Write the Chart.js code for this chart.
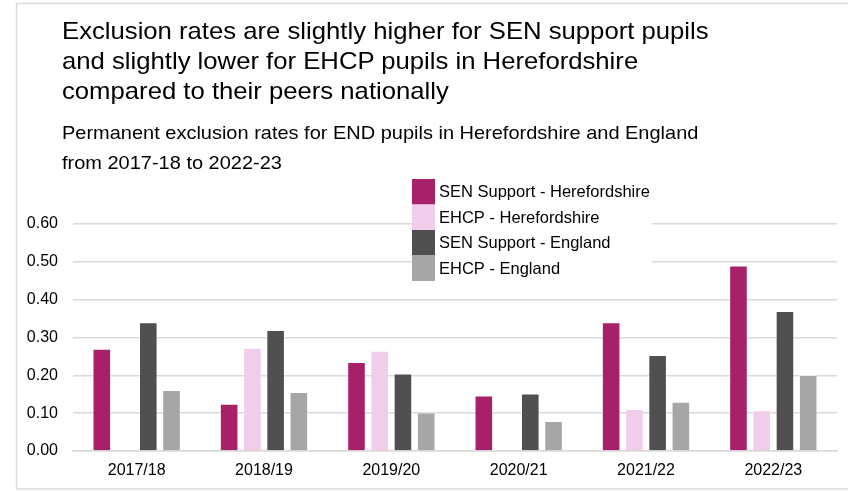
<!DOCTYPE html>
<html>
<head>
<meta charset="utf-8">
<script src="https://cdn.jsdelivr.net/npm/chart.js@4.4.0/dist/chart.umd.min.js"></script>
<style>
  html, body { margin: 0; padding: 0; background: #fff; }
  #wrap { position: relative; width: 848px; height: 491px; font-family: "Liberation Sans", Arial, sans-serif; }
  #chart { position: absolute; left: 0; top: 0; }
  .title { position: absolute; left: 62px; top: 16px; font-size: 24px; line-height: 30px; color: #000; white-space: nowrap; transform: scaleX(1.07); transform-origin: left top; }
  .subtitle { position: absolute; left: 62px; top: 118px; font-size: 18.5px; line-height: 30px; color: #000; white-space: nowrap; transform: scaleX(1.08); transform-origin: left top; }
</style>
</head>
<body>
<div id="wrap">
  <canvas id="chart" width="848" height="491"></canvas>
  <div class="title">Exclusion rates are slightly higher for SEN support pupils<br>and slightly lower for EHCP pupils in Herefordshire<br>compared to their peers nationally</div>
  <div class="subtitle">Permanent exclusion rates for END pupils in Herefordshire and England<br>from 2017-18 to 2022-23</div>
</div>
<script>
const years = ['2017/18', '2018/19', '2019/20', '2020/21', '2021/22', '2022/23'];
const senHereford = [0.27, 0.125, 0.235, 0.147, 0.34, 0.49];
const ehcpHereford = [null, 0.273, 0.265, null, 0.111, 0.108];
const senEngland = [0.34, 0.32, 0.205, 0.152, 0.254, 0.37];
const ehcpEngland = [0.161, 0.156, 0.102, 0.079, 0.13, 0.201];
const yTicks = [0, 0.1, 0.2, 0.3, 0.4, 0.5, 0.6];

const colours = ['#a8206a', '#f2cceb', '#505050', '#a6a6a6'];

// grey outline round the whole graphic
const frame = {
  id: 'frame',
  beforeDraw(chart) {
    const ctx = chart.ctx;
    ctx.save();
    ctx.strokeStyle = '#d9d9d9';
    ctx.lineWidth = 1.5;
    ctx.strokeRect(16.5, 3.5, 840, 485.5);
    ctx.restore();
  }
};

// stacked legend with solid swatches, sitting over the top gridlines
const boxLegend = {
  id: 'boxLegend',
  afterDraw(chart) {
    const ctx = chart.ctx;
    const x = 412, y = 179, sw = 23, rowH = 25.5;
    ctx.save();
    ctx.fillStyle = '#fff';
    ctx.fillRect(x, y, 240, rowH * 4);
    ctx.font = '16.5px "Liberation Sans", Arial, sans-serif';
    ctx.textBaseline = 'middle';
    chart.data.datasets.forEach((ds, i) => {
      ctx.fillStyle = ds.backgroundColor;
      ctx.fillRect(x, y + i * rowH, sw, rowH);
      ctx.fillStyle = '#000';
      ctx.fillText(ds.label, x + 27, y + i * rowH + rowH / 2 + 1);
    });
    ctx.restore();
  }
};

const mk = (label, data, i) => ({
  label: label,
  data: data,
  backgroundColor: colours[i],
  borderColor: 'rgba(255,255,255,0.5)',
  borderWidth: 1
});

new Chart(document.getElementById('chart'), {
  type: 'bar',
  data: {
    labels: years,
    datasets: [
      mk('SEN Support - Herefordshire', senHereford, 0),
      mk('EHCP - Herefordshire', ehcpHereford, 1),
      mk('SEN Support - England', senEngland, 2),
      mk('EHCP - England', ehcpEngland, 3)
    ]
  },
  options: {
    responsive: false,
    animation: false,
    categoryPercentage: 0.73,
    barPercentage: 0.8,
    layout: { padding: { top: 224, right: 11, bottom: 0, left: 0 } },
    plugins: {
      legend: { display: false },
      title: { display: false },
      tooltip: { enabled: false }
    },
    scales: {
      x: {
        grid: { display: false, drawTicks: false },
        border: { display: true, color: '#d9d9d9', width: 1.5 },
        ticks: { color: '#000', padding: 10, font: { family: '"Liberation Sans", Arial, sans-serif', size: 16 } },
        afterFit: s => { s.height = 40; }
      },
      y: {
        min: 0,
        max: 0.6,
        afterBuildTicks: s => { s.ticks = yTicks.map(v => ({ value: v })); },
        grid: { color: '#d9d9d9', lineWidth: 1.5, drawTicks: false },
        border: { display: false },
        ticks: {
          color: '#000',
          padding: 15,
          font: { family: '"Liberation Sans", Arial, sans-serif', size: 16 },
          callback: v => v.toFixed(2)
        },
        afterFit: s => { s.width = 73; }
      }
    }
  },
  plugins: [frame, boxLegend]
});
</script>
</body>
</html>
